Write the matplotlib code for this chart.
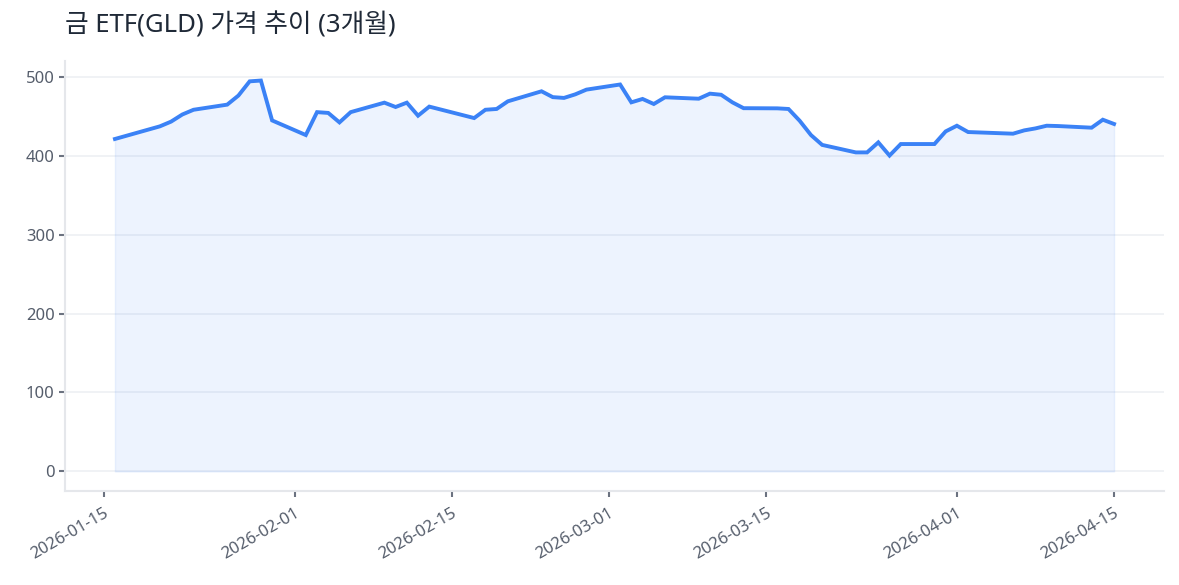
import matplotlib
matplotlib.use("Agg")
import matplotlib.pyplot as plt
import matplotlib.dates as mdates
import pandas as pd

plt.rcParams['font.family'] = ['Noto Sans', 'Noto Sans CJK KR', 'DejaVu Sans']

title = "금 ETF(GLD) 가격 추이 (3개월)"

dates = [
    "2026-01-16", "2026-01-20", "2026-01-21", "2026-01-22", "2026-01-23",
    "2026-01-26", "2026-01-27", "2026-01-28", "2026-01-29", "2026-01-30",
    "2026-02-02", "2026-02-03", "2026-02-04", "2026-02-05", "2026-02-06",
    "2026-02-09", "2026-02-10", "2026-02-11", "2026-02-12", "2026-02-13",
    "2026-02-17", "2026-02-18", "2026-02-19", "2026-02-20",
    "2026-02-23", "2026-02-24", "2026-02-25", "2026-02-26", "2026-02-27",
    "2026-03-02", "2026-03-03", "2026-03-04", "2026-03-05", "2026-03-06",
    "2026-03-09", "2026-03-10", "2026-03-11", "2026-03-12", "2026-03-13",
    "2026-03-16", "2026-03-17", "2026-03-18", "2026-03-19", "2026-03-20",
    "2026-03-23", "2026-03-24", "2026-03-25", "2026-03-26", "2026-03-27",
    "2026-03-30", "2026-03-31", "2026-04-01", "2026-04-02",
    "2026-04-06", "2026-04-07", "2026-04-08", "2026-04-09", "2026-04-10",
    "2026-04-13", "2026-04-14", "2026-04-15",
]
prices = [
    421.0, 437.0, 443.0, 452.0, 458.0,
    464.5, 476.0, 494.0, 495.0, 444.5,
    426.0, 455.0, 454.0, 442.0, 455.0,
    467.0, 461.5, 467.0, 450.5, 462.0,
    447.5, 458.0, 459.0, 468.7,
    481.4, 474.0, 473.0, 477.5, 483.5,
    490.0, 467.4, 471.7, 465.3, 473.8,
    472.0, 478.4, 477.0, 467.4, 460.0,
    459.8, 459.0, 444.0, 426.0, 413.5,
    404.0, 404.0, 416.7, 400.0, 414.6,
    414.6, 430.6, 437.8, 429.8,
    427.7, 431.9, 434.4, 437.8, 437.4,
    435.3, 445.4, 440.0,
]
yticks = [0, 100, 200, 300, 400, 500]
xtick_dates = ["2026-01-15", "2026-02-01", "2026-02-15", "2026-03-01",
               "2026-03-15", "2026-04-01", "2026-04-15"]

x = pd.to_datetime(dates)

fig = plt.figure(figsize=(11.79, 5.85), dpi=100)
ax = fig.add_axes([65/1179, 1 - 491/585, (1164 - 65)/1179, (491 - 61)/585])

line_color = "#3b82f6"
ax.fill_between(x, prices, 0, color=line_color, alpha=0.09, linewidth=1.0)
ax.plot(x, prices, color=line_color, linewidth=2.8, solid_joinstyle='miter')

ax.set_yticks(yticks)
ax.set_xticks(pd.to_datetime(xtick_dates))
ax.xaxis.set_major_formatter(mdates.DateFormatter("%Y-%m-%d"))
ax.margins(x=0.05, y=0.05)

ax.grid(axis='y', color='#eef0f3', linewidth=1.2)
ax.set_axisbelow(True)
for s in ['top', 'right']:
    ax.spines[s].set_visible(False)
for s in ['left', 'bottom']:
    ax.spines[s].set_color('#e5e7eb')
    ax.spines[s].set_linewidth(1.5)

ax.tick_params(axis='both', colors='#6b7280', labelcolor='#555d6b',
               labelsize=12, length=4, width=1.5)
ax.tick_params(axis='x', pad=6)
plt.setp(ax.get_xticklabels(), rotation=30, ha='right', rotation_mode='anchor')

fig.text(65/1179, 1 - 25/585, title, fontsize=18.5, color='#1f2937',
         ha='left', va='center')

fig.savefig("out.png", dpi=100)
